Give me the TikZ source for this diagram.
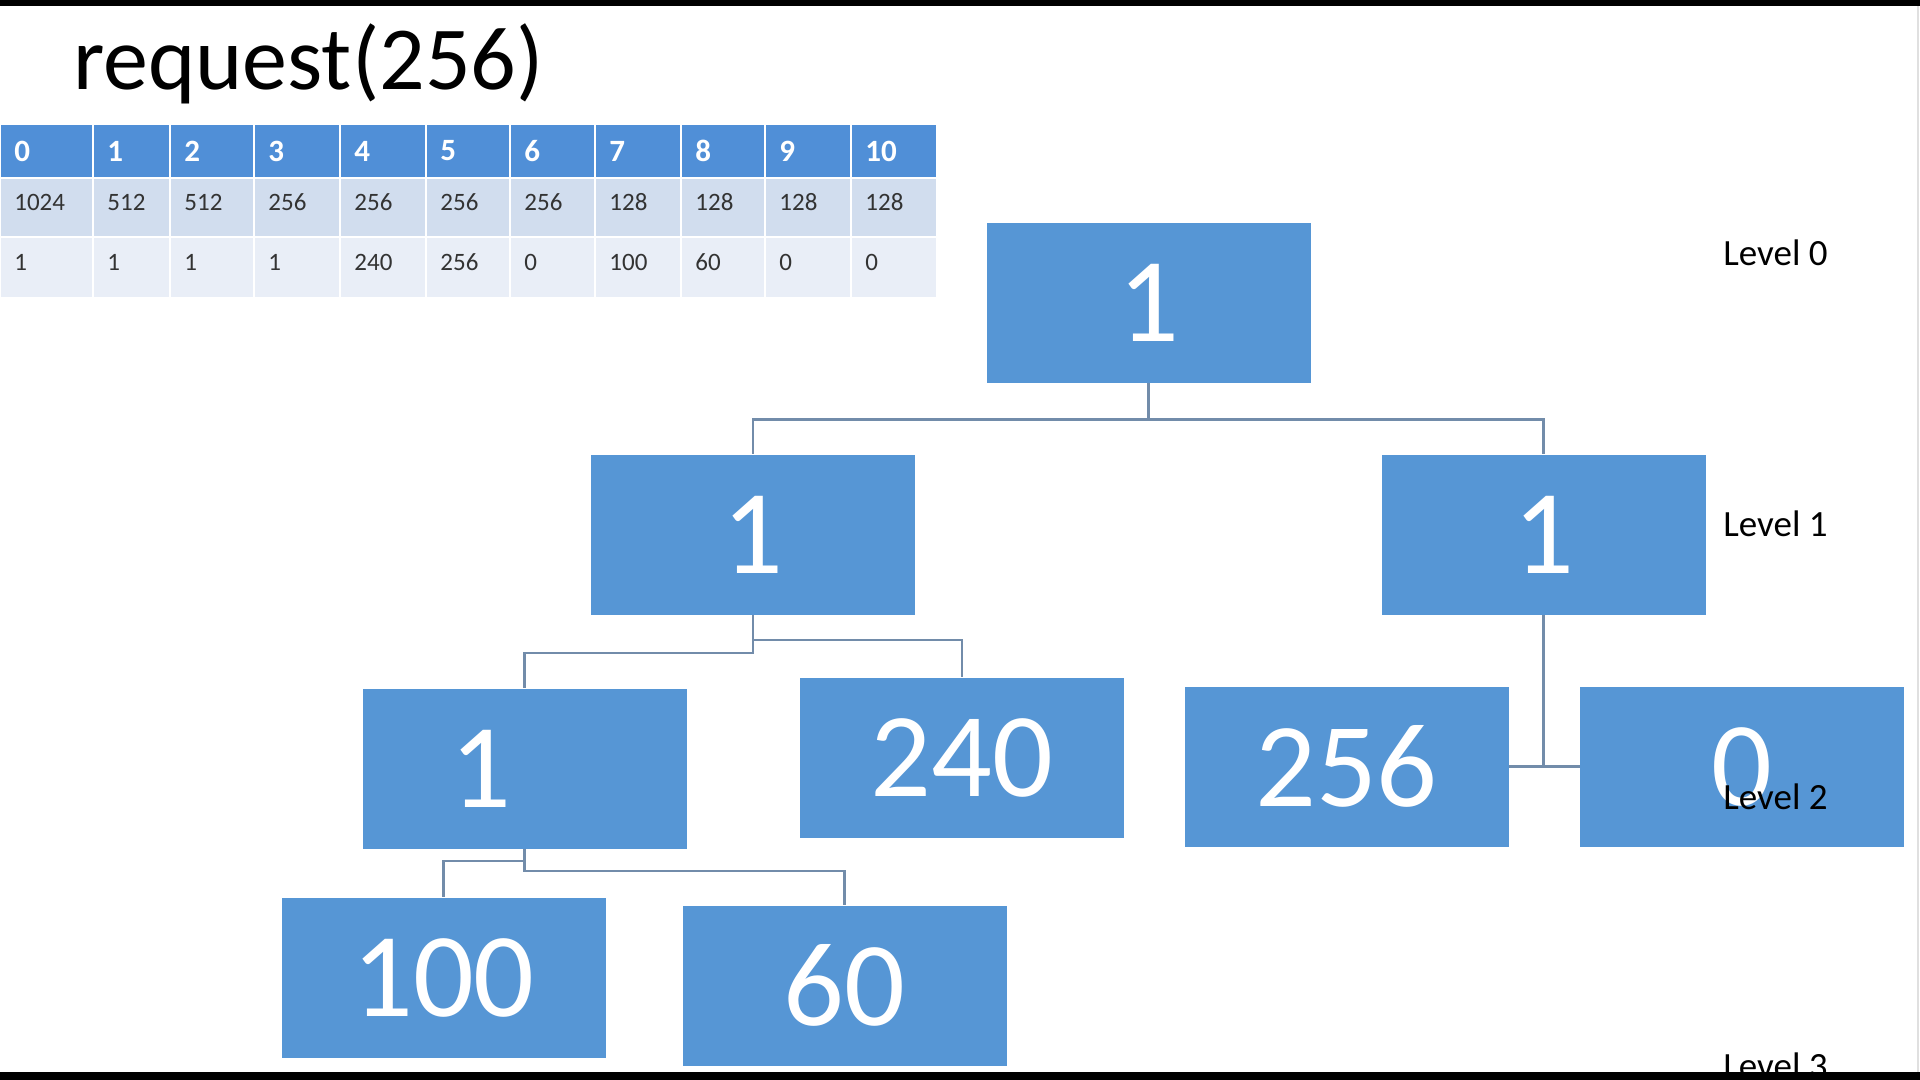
\documentclass[tikz,border=0pt]{standalone}
\usepackage{fontspec}
\setmainfont{Carlito}
\definecolor{boxblue}{RGB}{86,150,213}
\definecolor{headblue}{RGB}{80,143,215}
\definecolor{rowdark}{RGB}{209,221,238}
\definecolor{rowlight}{RGB}{233,238,247}
\definecolor{linkgray}{RGB}{114,140,170}
\tikzset{
  block/.style={fill=boxblue, text=white, minimum width=162pt, minimum height=80pt, inner sep=0pt, font=\fontsize{60}{60}\selectfont},
  link/.style={draw=linkgray, line width=1.2pt},
  levellabel/.style={anchor=west, inner sep=0pt, font=\fontsize{18.5}{20}\selectfont},
  cell/.style={draw=white, line width=1pt},
  headtext/.style={anchor=west, inner sep=0pt, text=white, font=\bfseries\fontsize{15.5}{16}\selectfont},
  celltext/.style={anchor=west, inner sep=0pt, text=black!80, font=\fontsize{12.5}{14}\selectfont},
}
\begin{document}
\begin{tikzpicture}[x=0.5pt, y=-0.5pt]
  \useasboundingbox (0,0) rectangle (1920,1080);

  % Title
  \node (title) [anchor=base west, inner sep=0pt, font=\fontsize{45}{50}\selectfont] at (73,90) {request(256)};

  % Table of sizes and free space
  \foreach \i/\a/\b/\s/\f in {0/0/93/1024/1, 1/93/170/512/1, 2/170/254/512/1, 3/254/340/256/1, 4/340/426/256/240, 5/426/510/256/256, 6/510/595/256/0, 7/595/681/128/100, 8/681/765/128/60, 9/765/851/128/0, 10/851/937/128/0} {
    \filldraw [cell, fill=headblue] (\a,124) rectangle (\b,178);
    \filldraw [cell, fill=rowdark] (\a,178) rectangle (\b,237);
    \filldraw [cell, fill=rowlight] (\a,237) rectangle (\b,298);
    \node (head\i) [headtext] at (\a+14,151) {\i};
    \node (size\i) [celltext] at (\a+14,202) {\s};
    \node (free\i) [celltext] at (\a+14,262) {\f};
  }

  % Level 0
  \node (root) [block] at (1148.5,303) {1};

  % Level 1
  \node (lone) [block] at (753,534.5) {1};
  \node (rone) [block] at (1543.5,534.5) {1};

  % Level 2
  \node (ltwo) [block] at (524.5,768.5) {1\hspace*{44pt}};
  \node (n240) [block] at (962,757.5) {240};
  \node (n256) [block] at (1346.5,766.5) {256};
  \node (nzero) [block] at (1742,766.5) {0};

  % Level 3
  \node (n100) [block] at (443.5,977.5) {100};
  \node (n60) [block] at (844.5,985.5) {60};

  % Drawing links
  \draw [link] (root.south) -- ++(0,36) -| (lone.north);
  \draw [link] (root.south) -- ++(0,36) -| (rone.north);
  \draw [link] (lone.south) -- ++(0,38) -| (ltwo.north);
  \draw [link] (lone.south) -- ++(0,25) -| (n240.north);
  \draw [link] (rone.south) -- (rone.south |- n256.east);
  \draw [link] (n256.east) -- (nzero.west);
  \draw [link] (ltwo.south) -- ++(0,12) -| (n100.north);
  \draw [link] (ltwo.south) -- ++(0,22) -| (n60.north);

  % Level labels
  \node (lvlzero) [levellabel] at (1723,253) {Level 0};
  \node (lvlone) [levellabel] at (1723,524) {Level 1};
  \node (lvltwo) [levellabel] at (1723,797) {Level 2};
  \node (lvlthree) [levellabel] at (1723,1066) {Level 3};

  % Frame
  \draw [black!12, line width=1pt] (1918,6) -- (1918,1072);
  \fill [black] (0,0) rectangle (1920,6);
  \fill [black] (0,1072) rectangle (1920,1080);
\end{tikzpicture}
\end{document}
